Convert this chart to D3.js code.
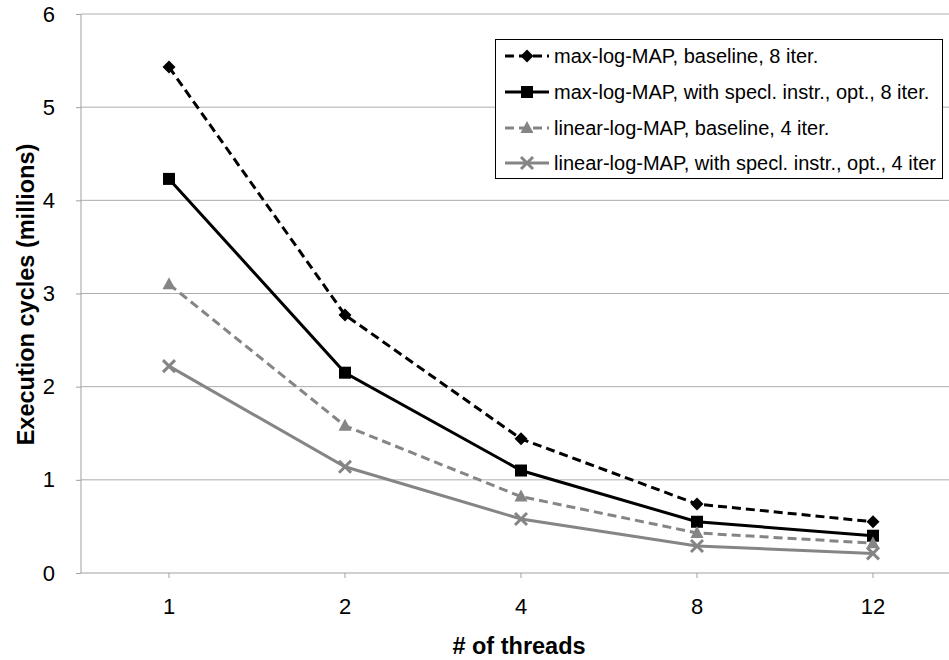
<!DOCTYPE html>
<html><head><meta charset="utf-8">
<script src="https://cdn.jsdelivr.net/npm/d3@7"></script>
<style>body{margin:0;background:#fff}svg{display:block;font-family:"Liberation Sans",Arial,sans-serif}</style>
</head><body><svg id="c" width="949" height="660"></svg>
<script>
const categories = ["1","2","4","8","12"];
const seriesNames = ["max-log-MAP, baseline, 8 iter.","max-log-MAP, with specl. instr., opt., 8 iter.","linear-log-MAP, baseline, 4 iter.","linear-log-MAP, with specl. instr., opt., 4 iter"];
const maxBase = [5.43,2.77,1.44,0.74,0.55];
const maxOpt = [4.23,2.15,1.10,0.55,0.40];
const linBase = [3.10,1.58,0.82,0.43,0.32];
const linOpt = [2.22,1.14,0.58,0.29,0.21];
const yTicks = [0,1,2,3,4,5,6];

const series = [
  {name:seriesNames[0], values:maxBase, color:"#000", dash:"9,5", marker:"diamond"},
  {name:seriesNames[1], values:maxOpt, color:"#000", dash:null, marker:"square"},
  {name:seriesNames[2], values:linBase, color:"#858585", dash:"9,5", marker:"triangle"},
  {name:seriesNames[3], values:linOpt, color:"#858585", dash:null, marker:"cross"}
];
const svg = d3.select("#c");
const x = d3.scaleBand().domain(categories).range([81,961]);
const y = d3.scaleLinear().domain([0,6]).range([573,14]);

// grid
svg.append("g").selectAll("line").data(yTicks.slice(1)).join("line")
  .attr("x1",81).attr("x2",949).attr("y1",d=>y(d)).attr("y2",d=>y(d))
  .attr("stroke","#adadad").attr("stroke-width",1);

// y axis
const ya = svg.append("g").attr("transform","translate(81,0)")
  .call(d3.axisLeft(y).tickValues(yTicks).tickSize(5).tickPadding(21).tickFormat(d3.format("d")));
ya.select(".domain").attr("stroke","#a0a0a0").attr("d","M0,"+y(6)+"V"+y(0));
ya.selectAll(".tick line").attr("stroke","#a0a0a0");
ya.selectAll("text").attr("font-size",22).attr("fill","#000").attr("font-family","Liberation Sans, Arial");

// x axis
const xa = svg.append("g").attr("transform","translate(0,573)")
  .call(d3.axisBottom(x).tickSize(5).tickPadding(20).tickSizeOuter(0));
xa.select(".domain").attr("stroke","#a0a0a0").attr("d","M81,0H949");
xa.selectAll(".tick line").attr("stroke","#a0a0a0");
xa.selectAll("text").attr("font-size",22).attr("fill","#000").attr("font-family","Liberation Sans, Arial");

// titles
svg.append("text").attr("transform","translate(34,294.5) rotate(-90)").attr("text-anchor","middle")
  .attr("font-size",23.5).attr("font-weight","bold").text("Execution cycles (millions)");
svg.append("text").attr("x",519).attr("y",654).attr("text-anchor","middle")
  .attr("font-size",23.5).attr("font-weight","bold").text("# of threads");

function drawMarker(g, type, color){
  if(type==="diamond") g.append("path").attr("d","M0,-6.5L6.5,0L0,6.5L-6.5,0Z").attr("fill",color);
  else if(type==="square") g.append("rect").attr("x",-6).attr("y",-6).attr("width",12).attr("height",12).attr("fill",color);
  else if(type==="triangle") g.append("path").attr("d","M0,-7L6.5,5L-6.5,5Z").attr("fill",color);
  else if(type==="cross") g.append("path").attr("d","M-6,-6L6,6M-6,6L6,-6").attr("stroke",color).attr("stroke-width",3);
}

const line = d3.line().x((d,i)=>x(categories[i])+x.bandwidth()/2).y(d=>y(d));
series.forEach(s=>{
  svg.append("path").attr("d",line(s.values)).attr("fill","none").attr("stroke",s.color)
    .attr("stroke-width",3).attr("stroke-dasharray",s.dash);
  s.values.forEach((v,i)=>{
    const g = svg.append("g").attr("transform",`translate(${x(categories[i])+x.bandwidth()/2},${y(v)})`);
    drawMarker(g,s.marker,s.color);
  });
});

// legend
const lg = svg.append("g");
lg.append("rect").attr("x",495.5).attr("y",39.5).attr("width",447).attr("height",139)
  .attr("fill","#fff").attr("stroke","#000").attr("stroke-width",1);
const rowY = [56,92,128,163];
series.forEach((s,i)=>{
  const cy = rowY[i];
  lg.append("path").attr("d",`M505,${cy}H549`).attr("stroke",s.color).attr("stroke-width",3)
    .attr("stroke-dasharray",s.dash?"9,5":null);
  const g = lg.append("g").attr("transform",`translate(527,${cy})`);
  drawMarker(g,s.marker,s.color);
  lg.append("text").attr("x",554).attr("y",cy+7).attr("font-size",20).text(s.name);
});
</script></body></html>
